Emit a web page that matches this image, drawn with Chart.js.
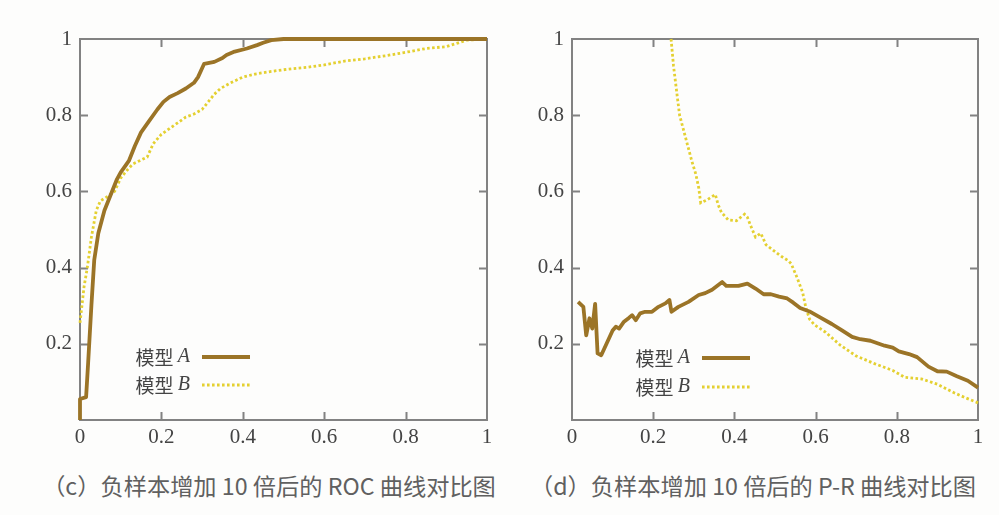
<!DOCTYPE html>
<html>
<head>
<meta charset="utf-8">
<script src="https://cdn.jsdelivr.net/npm/chart.js@4/dist/chart.umd.min.js"></script>
<style>
  html, body { margin: 0; padding: 0; background: #fdfdfc; }
  body { width: 999px; height: 515px; position: relative; overflow: hidden; }
  canvas { position: absolute; top: 0; }
  #rocCanvas { left: 0; }
  #prCanvas { left: 500px; }
  .caption {
    position: absolute; top: 470px; white-space: nowrap;
    font-family: "Noto Sans CJK SC", "Noto Sans", sans-serif;
    font-size: 23px; color: #606060; line-height: 30px;
    transform: translateX(-50%) scaleX(1.01);
  }
</style>
</head>
<body>
<canvas id="rocCanvas" width="500" height="460"></canvas>
<canvas id="prCanvas" width="499" height="460"></canvas>
<div class="caption" style="left:269px">（c）负样本增加 10 倍后的 ROC 曲线对比图</div>
<div class="caption" style="left:753px">（d）负样本增加 10 倍后的 P-R 曲线对比图</div>

<script>
// ---- data ----------------------------------------------------------------
const seriesNames = ['模型 A', '模型 B'];
const axisTicks = [0, 0.2, 0.4, 0.6, 0.8, 1];

// ROC: false positive rate (x) vs true positive rate (y)
const rocA_fpr = [0, 0, 0.015, 0.02, 0.028, 0.035, 0.045, 0.06, 0.075, 0.09, 0.1, 0.12, 0.135, 0.15, 0.17, 0.19, 0.205, 0.22, 0.24, 0.26, 0.28, 0.29, 0.305, 0.33, 0.35, 0.36, 0.38, 0.41, 0.435, 0.45, 0.47, 0.5, 1];
const rocA_tpr = [0, 0.055, 0.06, 0.15, 0.3, 0.42, 0.49, 0.55, 0.59, 0.63, 0.65, 0.68, 0.72, 0.755, 0.785, 0.815, 0.835, 0.848, 0.858, 0.87, 0.885, 0.9, 0.935, 0.94, 0.95, 0.958, 0.967, 0.975, 0.984, 0.99, 0.997, 1, 1];
const rocB_fpr = [0, 0.01, 0.018, 0.028, 0.04, 0.05, 0.065, 0.085, 0.1, 0.115, 0.13, 0.155, 0.165, 0.18, 0.2, 0.22, 0.24, 0.26, 0.28, 0.3, 0.315, 0.33, 0.345, 0.37, 0.4, 0.43, 0.47, 0.52, 0.56, 0.6, 0.65, 0.7, 0.75, 0.8, 0.85, 0.9, 0.93, 0.95, 1];
const rocB_tpr = [0.255, 0.35, 0.4, 0.48, 0.55, 0.575, 0.585, 0.6, 0.635, 0.655, 0.672, 0.685, 0.69, 0.725, 0.75, 0.765, 0.78, 0.795, 0.803, 0.815, 0.835, 0.855, 0.87, 0.885, 0.9, 0.908, 0.915, 0.922, 0.926, 0.932, 0.942, 0.948, 0.956, 0.965, 0.975, 0.98, 0.99, 0.997, 1];

// P-R: recall (x) vs precision (y)
const prA_recall = [0.015, 0.028, 0.035, 0.043, 0.05, 0.057, 0.063, 0.072, 0.085, 0.1, 0.108, 0.116, 0.128, 0.14, 0.148, 0.157, 0.168, 0.18, 0.197, 0.213, 0.23, 0.24, 0.245, 0.262, 0.287, 0.312, 0.328, 0.345, 0.37, 0.38, 0.41, 0.432, 0.452, 0.472, 0.49, 0.51, 0.53, 0.545, 0.562, 0.585, 0.61, 0.64, 0.665, 0.69, 0.71, 0.735, 0.77, 0.79, 0.805, 0.83, 0.85, 0.878, 0.9, 0.923, 0.948, 0.975, 1];
const prA_precision = [0.31, 0.297, 0.222, 0.267, 0.24, 0.305, 0.175, 0.17, 0.2, 0.235, 0.245, 0.24, 0.258, 0.268, 0.275, 0.262, 0.28, 0.284, 0.284, 0.297, 0.306, 0.315, 0.284, 0.297, 0.31, 0.328, 0.333, 0.342, 0.362, 0.352, 0.352, 0.358, 0.345, 0.33, 0.33, 0.324, 0.319, 0.308, 0.294, 0.285, 0.27, 0.252, 0.235, 0.218, 0.212, 0.208, 0.195, 0.19, 0.18, 0.173, 0.165, 0.14, 0.128, 0.127, 0.115, 0.103, 0.085];
const prB_recall = [0.244, 0.25, 0.258, 0.265, 0.275, 0.285, 0.295, 0.305, 0.312, 0.317, 0.333, 0.353, 0.36, 0.368, 0.385, 0.405, 0.425, 0.432, 0.44, 0.452, 0.465, 0.478, 0.495, 0.515, 0.533, 0.54, 0.555, 0.568, 0.576, 0.585, 0.597, 0.625, 0.66, 0.7, 0.745, 0.79, 0.82, 0.86, 0.9, 0.94, 0.97, 1];
const prB_precision = [1, 0.93, 0.86, 0.8, 0.76, 0.72, 0.68, 0.645, 0.61, 0.57, 0.578, 0.592, 0.565, 0.545, 0.525, 0.523, 0.54, 0.532, 0.51, 0.48, 0.49, 0.46, 0.446, 0.43, 0.418, 0.41, 0.372, 0.335, 0.295, 0.265, 0.25, 0.23, 0.197, 0.168, 0.148, 0.13, 0.112, 0.108, 0.094, 0.072, 0.058, 0.045];

// ---- styling -------------------------------------------------------------
const COLOR_A = '#9b7427';
const COLOR_B = '#e4d031';
const FRAME = '#828282';
const TEXT = '#444444';
const SERIF = "'Liberation Serif', 'DejaVu Serif', serif";

Chart.defaults.font.family = SERIF;

const toPoints = (xs, ys) => xs.map((x, i) => ({ x, y: ys[i] }));
const fmt = v => String(+v.toFixed(2));

// Box frame with inward tick marks on all four sides
const framePlugin = {
  id: 'frameTicks',
  beforeDatasetsDraw(chart) {
    const { ctx, chartArea: a, scales } = chart;
    const len = 8;
    ctx.save();
    ctx.strokeStyle = FRAME;
    ctx.lineWidth = 2;
    ctx.strokeRect(a.left, a.top, a.right - a.left, a.bottom - a.top);
    ctx.beginPath();
    axisTicks.slice(1, -1).forEach(v => {
      const px = Math.round(scales.x.getPixelForValue(v)) + 0.5;
      ctx.moveTo(px, a.bottom); ctx.lineTo(px, a.bottom - len);
      ctx.moveTo(px, a.top); ctx.lineTo(px, a.top + len);
      const py = Math.round(scales.y.getPixelForValue(v)) + 0.5;
      ctx.moveTo(a.left, py); ctx.lineTo(a.left + len, py);
      ctx.moveTo(a.right, py); ctx.lineTo(a.right - len, py);
    });
    ctx.stroke();
    ctx.restore();
  }
};

// In-plot key: label text followed by a line sample
const keyPlugin = {
  id: 'inlineKey',
  afterDatasetsDraw(chart, args, opts) {
    const { ctx, chartArea: a } = chart;
    ctx.save();
    chart.data.datasets.forEach((ds, i) => {
      const y = a.top + opts.rows[i];
      const parts = ds.label.split(' ');
      const letter = parts.pop();
      const head = parts.join(' ') + ' ';
      ctx.textBaseline = 'middle';
      ctx.fillStyle = TEXT;
      ctx.font = "italic 20px " + SERIF;
      const lw = ctx.measureText(letter).width;
      const right = a.left + opts.textRight;
      ctx.textAlign = 'right';
      ctx.fillText(letter, right, y);
      ctx.font = '19px "Noto Sans CJK SC", sans-serif';
      ctx.fillText(head, right - lw, y + 1);
      ctx.beginPath();
      ctx.strokeStyle = ds.borderColor;
      ctx.lineWidth = ds.borderWidth;
      ctx.setLineDash(ds.borderDash || []);
      ctx.moveTo(a.left + opts.lineStart, y);
      ctx.lineTo(a.left + opts.lineEnd, y);
      ctx.stroke();
    });
    ctx.restore();
  }
};

function axis(fitSize, isX) {
  return {
    type: 'linear', min: 0, max: 1,
    grid: { display: false, drawTicks: false },
    border: { display: false },
    ticks: {
      stepSize: 0.2,
      color: TEXT,
      font: { family: SERIF, size: 21 },
      padding: isX ? 5 : 8,
      callback: v => (!isX && v === 0) ? '' : fmt(v)
    },
    afterFit(s) { if (isX) s.height = fitSize; else s.width = fitSize; }
  };
}

function makeChart(id, dsA, dsB, yWidth, rightPad, key) {
  return new Chart(document.getElementById(id), {
    type: 'scatter',
    data: {
      datasets: [
        { label: seriesNames[0], data: dsA, showLine: true, pointRadius: 0,
          borderColor: COLOR_A, borderWidth: 3.8, tension: 0, clip: 6,
          borderJoinStyle: 'round' },
        { label: seriesNames[1], data: dsB, showLine: true, pointRadius: 0,
          borderColor: COLOR_B, borderWidth: 2.8, borderDash: [2.6, 2.4],
          tension: 0, clip: 6 }
      ]
    },
    options: {
      responsive: false, animation: false, devicePixelRatio: 1,
      layout: { padding: { top: 39, right: rightPad, left: 0, bottom: 0 } },
      scales: { x: axis(40, true), y: axis(yWidth, false) },
      plugins: { legend: { display: false }, tooltip: { enabled: false }, inlineKey: key }
    },
    plugins: [framePlugin, keyPlugin]
  });
}

makeChart('rocCanvas', toPoints(rocA_fpr, rocA_tpr), toPoints(rocB_fpr, rocB_tpr),
  80, 13, { textRight: 110, lineStart: 122, lineEnd: 170, rows: [318, 346] });
makeChart('prCanvas', toPoints(prA_recall, prA_precision), toPoints(prB_recall, prB_precision),
  72, 21, { textRight: 118, lineStart: 130, lineEnd: 178, rows: [319, 348] });
</script>
</body>
</html>
